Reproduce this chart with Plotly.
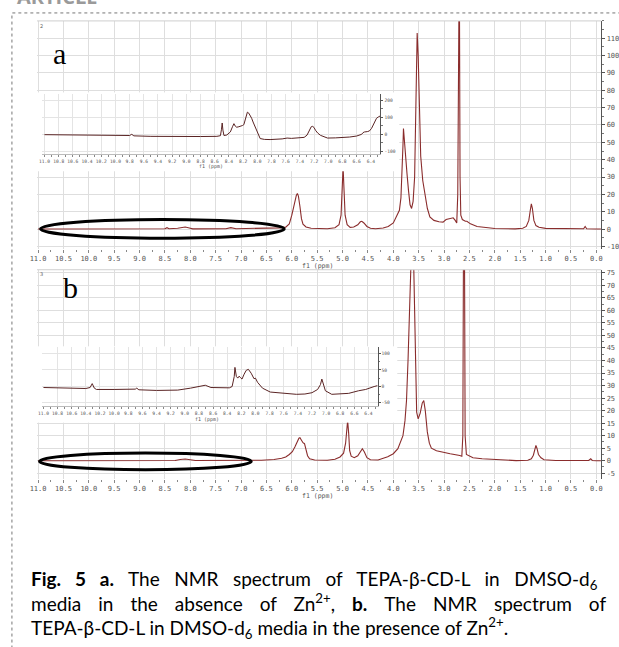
import plotly.graph_objects as go

W, H = 619, 647

# ---------------- data (ppm, intensity) ----------------
SPEC_A = [(11.0, 0), (10.0, 0), (9.0, 0.1), (8.5, 0.2), (8.46, 0.8), (8.42, 0.2), (8.25, 0.5),
          (8.1, 1.2), (8.02, 0.6), (7.95, 0.1), (7.3, 0.2), (7.2, 0.8), (7.1, 0.2), (6.4, 0.4),
          (6.25, 0.7), (6.12, 1.1), (6.05, 3), (6.0, 8), (5.95, 15), (5.91, 19.5), (5.89, 20.5),
          (5.87, 19), (5.84, 13), (5.81, 6), (5.78, 2.8), (5.72, 1.2), (5.62, 0.5), (5.5, 0.3),
          (5.3, 0.2), (5.15, 0.8), (5.07, 2.5), (5.03, 8), (5.01, 20), (4.99, 35.8), (4.97, 22),
          (4.95, 8), (4.91, 2.5), (4.85, 1.0), (4.78, 1.2), (4.7, 2.5), (4.65, 4.2), (4.62, 4.5),
          (4.58, 3.5), (4.52, 1.5), (4.45, 0.5), (4.35, 0.2), (4.2, 0.6), (4.1, 1.5), (4.0, 3.5),
          (3.92, 8), (3.88, 10.8), (3.85, 18), (3.83, 30), (3.81, 48), (3.8, 58), (3.78, 50),
          (3.75, 36), (3.73, 31.8), (3.7, 22), (3.67, 14), (3.64, 11.9), (3.61, 16), (3.58, 30),
          (3.56, 60), (3.54, 100), (3.53, 113), (3.51, 100), (3.49, 70), (3.46, 42), (3.42, 28),
          (3.38, 20.5), (3.33, 12), (3.28, 7), (3.2, 5), (3.1, 4.2), (3.02, 4.0), (2.96, 5.5),
          (2.88, 6), (2.82, 6.5), (2.78, 5), (2.75, 3.5), (2.73, 20), (2.715, 150), (2.7, 160),
          (2.685, 30), (2.67, 8), (2.64, 5.5), (2.58, 4.5), (2.55, 4.5), (2.48, 3), (2.35, 1.5),
          (2.17, 0.8), (2.0, 0.3), (1.6, 0.1), (1.45, 0.5), (1.38, 1.5), (1.33, 5), (1.3, 11),
          (1.28, 14.5), (1.26, 12), (1.23, 5), (1.19, 2), (1.13, 1), (1.0, 0.4), (0.5, 0.1),
          (0.25, 0.2), (0.22, 1.5), (0.19, 0.2), (0.0, 0), (-0.09, 0)]

SPEC_B = [(11.0, 0), (9.0, 0), (8.3, 0.1), (8.2, 0.5), (8.1, 0.7), (8.0, 0.4), (7.9, 0.1),
          (6.6, 0.2), (6.35, 0.5), (6.2, 1.0), (6.12, 1.5), (6.05, 2.5), (5.99, 3.6), (5.94, 5.5),
          (5.9, 7.5), (5.86, 9.0), (5.84, 9.2), (5.81, 8.0), (5.78, 7.2), (5.75, 6.8), (5.72, 4.5),
          (5.69, 2), (5.65, 0.8), (5.55, 0.3), (5.3, 0.2), (5.15, 0.6), (5.05, 1.5), (4.98, 3),
          (4.94, 7), (4.92, 12), (4.9, 16), (4.88, 11), (4.86, 4), (4.83, 1.8), (4.77, 1.2),
          (4.7, 2), (4.65, 3.8), (4.61, 4.8), (4.57, 3.5), (4.52, 1.2), (4.45, 0.4), (4.3, 0.3),
          (4.11, 1.6), (4.0, 2.8), (3.91, 4.8), (3.85, 7.5), (3.81, 10), (3.77, 16), (3.74, 24),
          (3.71, 40), (3.68, 80), (3.65, 100), (3.62, 100), (3.6, 80), (3.57, 40), (3.54, 19.4),
          (3.51, 16.7), (3.47, 19), (3.43, 23), (3.4, 24), (3.37, 20), (3.33, 11.5), (3.29, 7),
          (3.25, 5), (3.15, 4), (3.05, 3.5), (2.88, 2.8), (2.69, 2.1), (2.65, 1.8), (2.63, 10),
          (2.615, 100), (2.6, 100), (2.585, 10), (2.56, 2.5), (2.5, 1.8), (2.43, 1.2), (2.25, 0.8),
          (2.04, 0.5), (1.8, 0.2), (1.58, 0.05), (1.35, 0.2), (1.28, 0.8), (1.24, 2.2), (1.21, 4.5),
          (1.19, 6.1), (1.17, 5), (1.14, 2.5), (1.09, 1.2), (1.03, 0.4), (0.8, 0.1), (0.15, 0.1),
          (0.11, 0.8), (0.08, 0.1), (0.0, 0), (-0.09, 0)]

INSET_A = [(11.0, -2), (10.7, -4), (10.37, -6), (9.8, -7), (9.77, 0), (9.74, -9), (9.5, -12),
           (9.21, -14), (8.8, -13), (8.57, -12), (8.52, -8), (8.505, 30), (8.495, 67), (8.485, 25),
           (8.47, -7), (8.43, -4), (8.38, 14), (8.35, 45), (8.33, 63), (8.31, 48), (8.29, 42),
           (8.26, 45), (8.24, 47), (8.21, 52), (8.19, 57), (8.17, 85), (8.15, 122), (8.14, 131),
           (8.12, 125), (8.1, 112), (8.08, 95), (8.06, 73), (8.03, 45), (8.01, 24), (7.98, 0),
           (7.96, -25), (7.9, -30), (7.82, -31), (7.65, -27), (7.58, -22), (7.52, -24), (7.4, -22),
           (7.34, -18), (7.3, -5), (7.27, 25), (7.24, 45), (7.22, 47), (7.2, 40), (7.18, 24),
           (7.15, 8), (7.11, -6), (7.06, -16), (7.01, -22), (6.9, -21), (6.81, -20), (6.7, -16),
           (6.6, -10), (6.53, 0), (6.51, 10), (6.49, 14), (6.45, 16), (6.42, 20), (6.39, 35),
           (6.35, 73), (6.32, 95), (6.29, 104), (6.26, 110)]

INSET_B = [(11.0, -4), (10.7, -5), (10.4, -7), (10.34, -4), (10.31, 8), (10.28, -6), (10.25, -10),
           (10.0, -10), (9.7, -9), (9.68, -6), (9.65, -11), (9.4, -13), (9.1, -12), (8.92, -6),
           (8.8, -2), (8.71, 3), (8.63, -4), (8.5, -5), (8.37, -5), (8.33, -1), (8.3, 30),
           (8.29, 58), (8.27, 30), (8.25, 25), (8.23, 31), (8.21, 26), (8.19, 22), (8.16, 37),
           (8.13, 49), (8.1, 52), (8.08, 47), (8.06, 40), (8.02, 23), (8.0, 25), (7.97, 12),
           (7.9, -6), (7.79, -18), (7.61, -22), (7.42, -25), (7.3, -24), (7.2, -20), (7.12, -10),
           (7.08, 5), (7.06, 22), (7.04, 10), (7.01, -14), (6.92, -25), (6.8, -23), (6.68, -22),
           (6.54, -14), (6.44, -10), (6.32, -1), (6.27, 2)]

MAIN_X_TICKS = [11.0, 10.5, 10.0, 9.5, 9.0, 8.5, 8.0, 7.5, 7.0, 6.5, 6.0, 5.5, 5.0, 4.5, 4.0,
                3.5, 3.0, 2.5, 2.0, 1.5, 1.0, 0.5, 0.0]
INSET_X_TICKS = [11.0, 10.8, 10.6, 10.4, 10.2, 10.0, 9.8, 9.6, 9.4, 9.2, 9.0, 8.8, 8.6, 8.4, 8.2,
                 8.0, 7.8, 7.6, 7.4, 7.2, 7.0, 6.8, 6.6, 6.4]
A_Y_TICKS = [-10, 0, 10, 20, 30, 40, 50, 60, 70, 80, 90, 100, 110]
B_Y_TICKS = [-5, 0, 5, 10, 15, 20, 25, 30, 35, 40, 45, 50, 55, 60, 65, 70, 75]
IA_Y_TICKS = [-100, 0, 100, 200]
IB_Y_TICKS = [-50, 0, 50, 100]

ELLIPSE_A = dict(x0=10.95, x1=6.15, y0=-5.3, y1=5.5)
ELLIPSE_B = dict(x0=10.97, x1=6.80, y0=-3.57, y1=3.05)

CAPTION = [
    "<b>Fig. 5 a.</b> The NMR spectrum of TEPA-β-CD-L in DMSO-d<sub>6</sub>",
    "media in the absence of Zn<sup>2+</sup>, <b>b.</b> The NMR spectrum of",
    "TEPA-β-CD-L in DMSO-d<sub>6</sub> media in the presence of Zn<sup>2+</sup>.",
]
CAPTION_GAP = ["\u00a0\u00a0", "\u00a0\u00a0\u2009", ""]

# ---------------- helpers ----------------
def xd(a, b):
    return [a / W, b / W]

def yd(top, bottom):
    return [1 - bottom / H, 1 - top / H]

def px(x):
    return x / W

def py(y):
    return 1 - y / H

LINE = "#8a2c2c"
LINE_IN = "#5a2424"
GRID = "#dedede"
TICKC = "#888888"
TF = dict(family="DejaVu Sans Mono", size=7, color="#555555")
TF_IN = dict(family="DejaVu Sans Mono", size=4.6, color="#555555")

fig = go.Figure()

def add(spec, xa, ya, color, width):
    fig.add_trace(go.Scatter(x=[p for p, _ in spec], y=[v for _, v in spec], mode="lines",
                             line=dict(color=color, width=width), xaxis=xa, yaxis=ya,
                             hoverinfo="skip", showlegend=False))

add(SPEC_A, "x", "y", LINE, 1.1)
add(SPEC_B, "x2", "y2", LINE, 1.1)
# empty subplots that only carry the white boxes behind the insets
for xa, ya in (("x3", "y3"), ("x4", "y4")):
    fig.add_trace(go.Scatter(x=[None], y=[None], mode="lines", xaxis=xa, yaxis=ya,
                             hoverinfo="skip", showlegend=False))
add(INSET_A, "x5", "y5", LINE_IN, 1.0)
add(INSET_B, "x6", "y6", LINE_IN, 1.0)

def main_x(anchor):
    return dict(domain=xd(30.5, 603), range=[11.02, -0.097], anchor=anchor, type="linear",
                tickmode="array", tickvals=MAIN_X_TICKS,
                ticktext=[f"{v:.1f}" for v in MAIN_X_TICKS], tickangle=0,
                ticks="outside", ticklen=3, tickcolor=TICKC, tickfont=TF,
                showgrid=True, gridcolor=GRID, gridwidth=1, zeroline=False, showline=False,
                minor=dict(tickmode="linear", tick0=0, dtick=0.25, ticks="outside", ticklen=2,
                           tickcolor=TICKC, showgrid=False),
                fixedrange=True)

def main_y(anchor, dom, rng, tv, mdt):
    return dict(domain=dom, range=rng, anchor=anchor, side="right", type="linear",
                tickmode="array", tickvals=tv, ticktext=[str(v) for v in tv],
                ticks="outside", ticklen=3, tickcolor="#555", tickfont=TF,
                showgrid=True, gridcolor=GRID, gridwidth=1, zeroline=False,
                showline=True, linecolor="#555", linewidth=1,
                minor=dict(tickmode="linear", tick0=0, dtick=mdt, ticks="outside", ticklen=2,
                           tickcolor="#777", showgrid=False),
                fixedrange=True)

def inset_x(anchor, dom, rng):
    return dict(domain=dom, range=rng, anchor=anchor, type="linear",
                tickmode="array", tickvals=INSET_X_TICKS,
                ticktext=[f"{v:.1f}" for v in INSET_X_TICKS], tickangle=0,
                ticks="outside", ticklen=2, tickcolor=TICKC, tickfont=TF_IN,
                showgrid=True, gridcolor="#e4e4e4", zeroline=False, showline=True,
                linecolor="#bbbbbb", linewidth=1,
                minor=dict(tickmode="linear", tick0=0, dtick=0.1, ticks="outside", ticklen=1.5,
                           tickcolor=TICKC, showgrid=False),
                fixedrange=True)

def inset_y(anchor, dom, rng, tv, mdt):
    return dict(domain=dom, range=rng, anchor=anchor, side="right", type="linear",
                tickmode="array", tickvals=tv, ticktext=[str(v) for v in tv],
                ticks="outside", ticklen=2, tickcolor="#555", tickfont=TF_IN,
                showgrid=True, gridcolor="#e4e4e4", zeroline=False,
                showline=True, linecolor="#555", linewidth=1,
                minor=dict(tickmode="linear", tick0=0, dtick=mdt, ticks="outside", ticklen=1.5,
                           tickcolor="#777", showgrid=False),
                fixedrange=True)

hidden = dict(visible=False, range=[0, 1], fixedrange=True)

fig.update_layout(
    width=W, height=H, margin=dict(l=0, r=0, t=0, b=0),
    paper_bgcolor="white", plot_bgcolor="white", showlegend=False,
    xaxis=main_x("y"),
    yaxis=main_y("x", yd(20, 249), [-11.4, 120], A_Y_TICKS, 5),
    xaxis2=main_x("y2"),
    yaxis2=main_y("x2", yd(270, 480), [-7.2, 76.2], B_Y_TICKS, 2.5),
    xaxis3=dict(hidden, domain=xd(29, 398), anchor="y3"),
    yaxis3=dict(hidden, domain=yd(92, 171), anchor="x3"),
    xaxis4=dict(hidden, domain=xd(29, 396), anchor="y4"),
    yaxis4=dict(hidden, domain=yd(347, 423.5), anchor="x4"),
    xaxis5=inset_x("y5", xd(36, 379), [11.028, 6.264]),
    yaxis5=inset_y("x5", yd(93, 154), [-118, 241], IA_Y_TICKS, 50),
    xaxis6=inset_x("y6", xd(36, 376), [11.014, 6.272]),
    yaxis6=inset_y("x6", yd(348, 407), [-61.3, 119.6], IB_Y_TICKS, 25),
)

shapes = []
for xr, yr in (("x3", "y3"), ("x4", "y4")):
    shapes.append(dict(type="rect", xref=xr, yref=yr, x0=0, x1=1, y0=0, y1=1, layer="below",
                       fillcolor="white", line=dict(width=0)))
for e, xr, yr in ((ELLIPSE_A, "x", "y"), (ELLIPSE_B, "x2", "y2")):
    shapes.append(dict(type="circle", xref=xr, yref=yr, layer="above",
                       line=dict(color="black", width=3), fillcolor="rgba(0,0,0,0)", **e))
for ytop in (20, 270):
    shapes.append(dict(type="line", xref="paper", yref="paper", x0=px(30.5), x1=px(603),
                       y0=py(ytop), y1=py(ytop), line=dict(color="#cfcfcf", width=1),
                       layer="above"))
# dashed page frame
shapes.append(dict(type="rect", xref="paper", yref="paper", x0=px(5), x1=1.05, y0=-0.05,
                   y1=py(12), line=dict(color="#777777", width=1, dash="dot"), layer="above"))
fig.update_layout(shapes=shapes)

ann = []
def text(x, y, t, size, family, color="black", xanchor="center", yanchor="middle", align="center"):
    ann.append(dict(x=px(x), y=py(y), xref="paper", yref="paper", text=t, showarrow=False,
                    xanchor=xanchor, yanchor=yanchor, align=align,
                    font=dict(size=size, family=family, color=color)))

text(8, 11, "<b>ARTICLE</b>", 20, "Open Sans", "#9a9a9a", "left", "bottom")
text(53, 53, "a", 30, "Liberation Serif")
text(64, 288, "b", 30, "Liberation Serif")
text(35, 25, "2", 5, "DejaVu Sans", "#666")
text(35, 274, "3", 5, "DejaVu Sans", "#666")
text(315, 266, "f1 (ppm)", 6.5, "DejaVu Sans Mono", "#555")
text(315, 497, "f1 (ppm)", 6.5, "DejaVu Sans Mono", "#555")
text(207, 166.5, "f1 (ppm)", 5, "DejaVu Sans Mono", "#555")
text(203, 420, "f1 (ppm)", 5, "DejaVu Sans Mono", "#555")

cap_lines = [line.replace(" ", " " + gap) if gap else line
             for line, gap in zip(CAPTION, CAPTION_GAP)]
text(22, 606, "<br>".join(cap_lines), 19, "Lato", "black", "left", "middle", "left")

fig.update_layout(annotations=ann)
fig.write_html("out.html")
